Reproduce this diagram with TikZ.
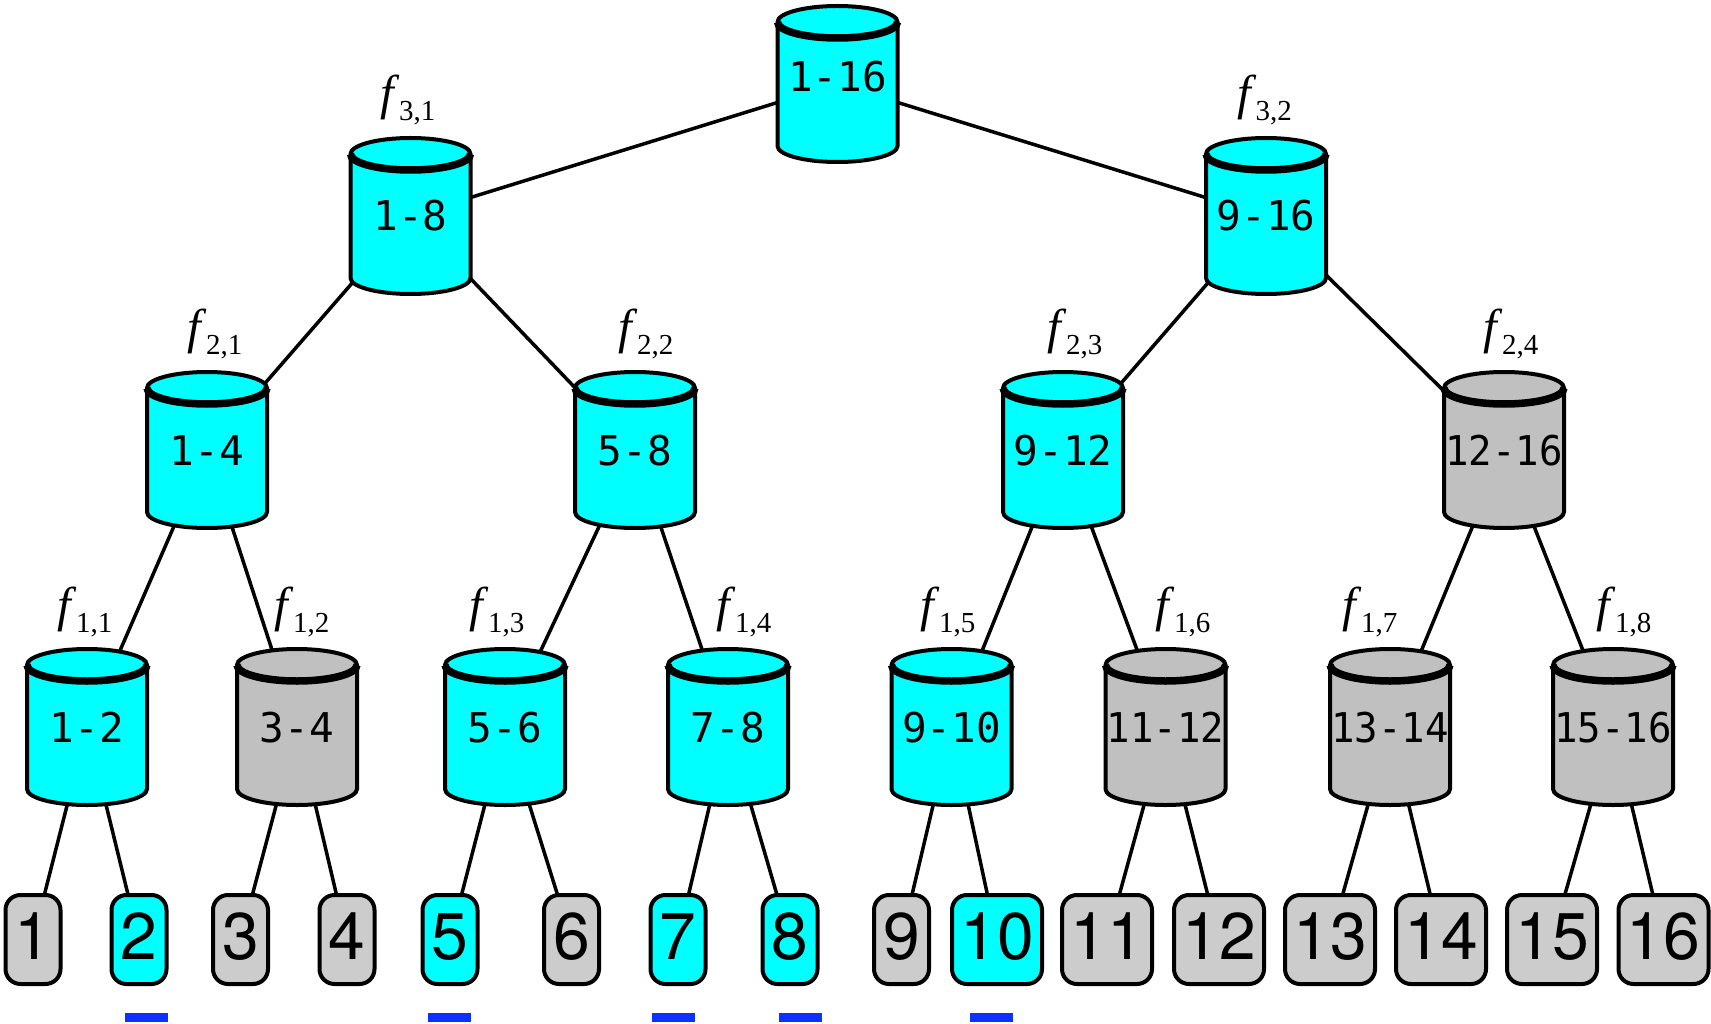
\documentclass[tikz,border=0pt]{standalone}
\usepackage{fontspec}
\usepackage{graphicx}
\setmainfont{Liberation Serif}
\newfontfamily\cylfont{DejaVu Sans Mono}
\newfontfamily\leaffont{TeX Gyre Heros}
\pgfdeclarelayer{edges}
\pgfsetlayers{edges,main}
\definecolor{hit}{RGB}{0,255,255}
\definecolor{cylgray}{RGB}{192,192,192}
\definecolor{leafgray}{RGB}{204,204,204}
\definecolor{markblue}{RGB}{13,50,255}

\tikzset{
  cylnode/.style={shape=rectangle, minimum width=124pt, minimum height=162pt,
    inner sep=0pt, outer sep=0pt, font=\cylfont\fontsize{41}{41}\selectfont,
    text height=30pt, text depth=0pt},
  leafbox/.style={draw, line width=4pt, rounded corners=15pt, fill=#1,
    minimum width=55pt, minimum height=89pt, inner sep=0pt, outer sep=0pt,
    font=\leaffont\fontsize{66}{66}\selectfont, text height=46pt, text depth=6pt},
  wideleaf/.style={leafbox=#1, minimum width=90pt},
  edge/.style={line width=3.5pt, shorten <=-6pt, shorten >=-6pt},
  flabel/.style={anchor=base, inner sep=0pt},
  markbar/.style={fill=markblue},
}

% cylinder: [text options]{name}{x}{y}{fill}{text}
\newcommand\cyl[6][]{%
  \filldraw[fill=#5, line width=4pt]
    (#3-60,#4-62) -- (#3-60,#4+62)
    arc[start angle=180, end angle=0, x radius=60, y radius=16]
    -- (#3+60,#4-62)
    arc[start angle=0, end angle=-180, x radius=60, y radius=16] -- cycle;
  \draw[line width=7.5pt]
    (#3-60,#4-62) arc[start angle=180, end angle=0, x radius=60, y radius=16];
  \node[cylnode,#1] (#2) at (#3,#4) {#6};
}
\newcommand\squeeze[1]{\scalebox{0.95}[1]{#1}}
\newcommand\flab[1]{{\fontsize{49}{49}\selectfont\itshape f}\hspace{5pt}%
  \raisebox{-11pt}{\fontsize{29}{29}\selectfont #1}}

\begin{document}
\begin{tikzpicture}[x=1pt, y=-1pt]
  \useasboundingbox (0,0) rectangle (1711,1024);

  % tree of filters
  \cyl[text depth=14pt]{r}{837.5}{84}{hit}{1-16}
  \cyl{a}{410.5}{216}{hit}{1-8}
  \cyl{b}{1266}{216}{hit}{9-16}
  \cyl{c1}{207}{450}{hit}{1-4}
  \cyl{c2}{635}{450}{hit}{5-8}
  \cyl{c3}{1063}{450}{hit}{9-12}
  \cyl{c4}{1504}{450}{cylgray}{\squeeze{12-16}}
  \cyl{d1}{87}{727}{hit}{1-2}
  \cyl{d2}{297}{727}{cylgray}{3-4}
  \cyl{d3}{505}{727}{hit}{5-6}
  \cyl{d4}{728}{727}{hit}{7-8}
  \cyl{d5}{951.5}{727}{hit}{9-10}
  \cyl{d6}{1165.5}{727}{cylgray}{\squeeze{11-12}}
  \cyl{d7}{1390}{727}{cylgray}{\squeeze{13-14}}
  \cyl{d8}{1613}{727}{cylgray}{\squeeze{15-16}}

  % leaves
  \node[leafbox=leafgray] (l1)  at (33,939.5)    {1};
  \node[leafbox=hit]      (l2)  at (139,939.5)   {2};
  \node[leafbox=leafgray] (l3)  at (240.5,939.5) {3};
  \node[leafbox=leafgray] (l4)  at (347,939.5)   {4};
  \node[leafbox=hit]      (l5)  at (450,939.5)   {5};
  \node[leafbox=leafgray] (l6)  at (571.5,939.5) {6};
  \node[leafbox=hit]      (l7)  at (678,939.5)   {7};
  \node[leafbox=hit]      (l8)  at (790,939.5)   {8};
  \node[leafbox=leafgray] (l9)  at (901.5,939.5) {9};
  \node[wideleaf=hit]      (l10) at (997,939.5)    {10};
  \node[wideleaf=leafgray] (l11) at (1107,939.5)   {11};
  \node[wideleaf=leafgray] (l12) at (1219,939.5)   {12};
  \node[wideleaf=leafgray] (l13) at (1330,939.5)   {13};
  \node[wideleaf=leafgray] (l14) at (1441,939.5)   {14};
  \node[wideleaf=leafgray] (l15) at (1552,939.5)   {15};
  \node[wideleaf=leafgray] (l16) at (1663.5,939.5) {16};

  % connectors, kept behind the shapes
  \begin{pgfonlayer}{edges}
    \draw[edge] (r) -- (a);   \draw[edge] (r) -- (b);
    \draw[edge] (a) -- (c1);  \draw[edge] (a) -- (c2);
    \draw[edge] (b) -- (c3);  \draw[edge] (b) -- (c4);
    \draw[edge] (c1) -- (d1); \draw[edge] (c1) -- (d2);
    \draw[edge] (c2) -- (d3); \draw[edge] (c2) -- (d4);
    \draw[edge] (c3) -- (d5); \draw[edge] (c3) -- (d6);
    \draw[edge] (c4) -- (d7); \draw[edge] (c4) -- (d8);
    \draw[edge] (d1) -- (l1);  \draw[edge] (d1) -- (l2);
    \draw[edge] (d2) -- (l3);  \draw[edge] (d2) -- (l4);
    \draw[edge] (d3) -- (l5);  \draw[edge] (d3) -- (l6);
    \draw[edge] (d4) -- (l7);  \draw[edge] (d4) -- (l8);
    \draw[edge] (d5) -- (l9);  \draw[edge] (d5) -- (l10);
    \draw[edge] (d6) -- (l11); \draw[edge] (d6) -- (l12);
    \draw[edge] (d7) -- (l13); \draw[edge] (d7) -- (l14);
    \draw[edge] (d8) -- (l15); \draw[edge] (d8) -- (l16);
  \end{pgfonlayer}

  % filter labels
  \node[flabel] (f31) at (408,110)    {\flab{3,1}};
  \node[flabel] (f32) at (1264.5,110) {\flab{3,2}};
  \node[flabel] (f21) at (215,344)    {\flab{2,1}};
  \node[flabel] (f22) at (646,344)    {\flab{2,2}};
  \node[flabel] (f23) at (1075,344)   {\flab{2,3}};
  \node[flabel] (f24) at (1511,344)   {\flab{2,4}};
  \node[flabel] (f11) at (85,621)     {\flab{1,1}};
  \node[flabel] (f12) at (302,621)    {\flab{1,2}};
  \node[flabel] (f13) at (497,621)    {\flab{1,3}};
  \node[flabel] (f14) at (744,621)    {\flab{1,4}};
  \node[flabel] (f15) at (948,621)    {\flab{1,5}};
  \node[flabel] (f16) at (1183,621)   {\flab{1,6}};
  \node[flabel] (f17) at (1370,621)   {\flab{1,7}};
  \node[flabel] (f18) at (1624,621)   {\flab{1,8}};

  % marks under the selected leaves
  \foreach \mx in {146,449.5,673,800,991.5}
    \fill[markbar] (\mx-21.5,1013) rectangle (\mx+21.5,1022);
\end{tikzpicture}
\end{document}
